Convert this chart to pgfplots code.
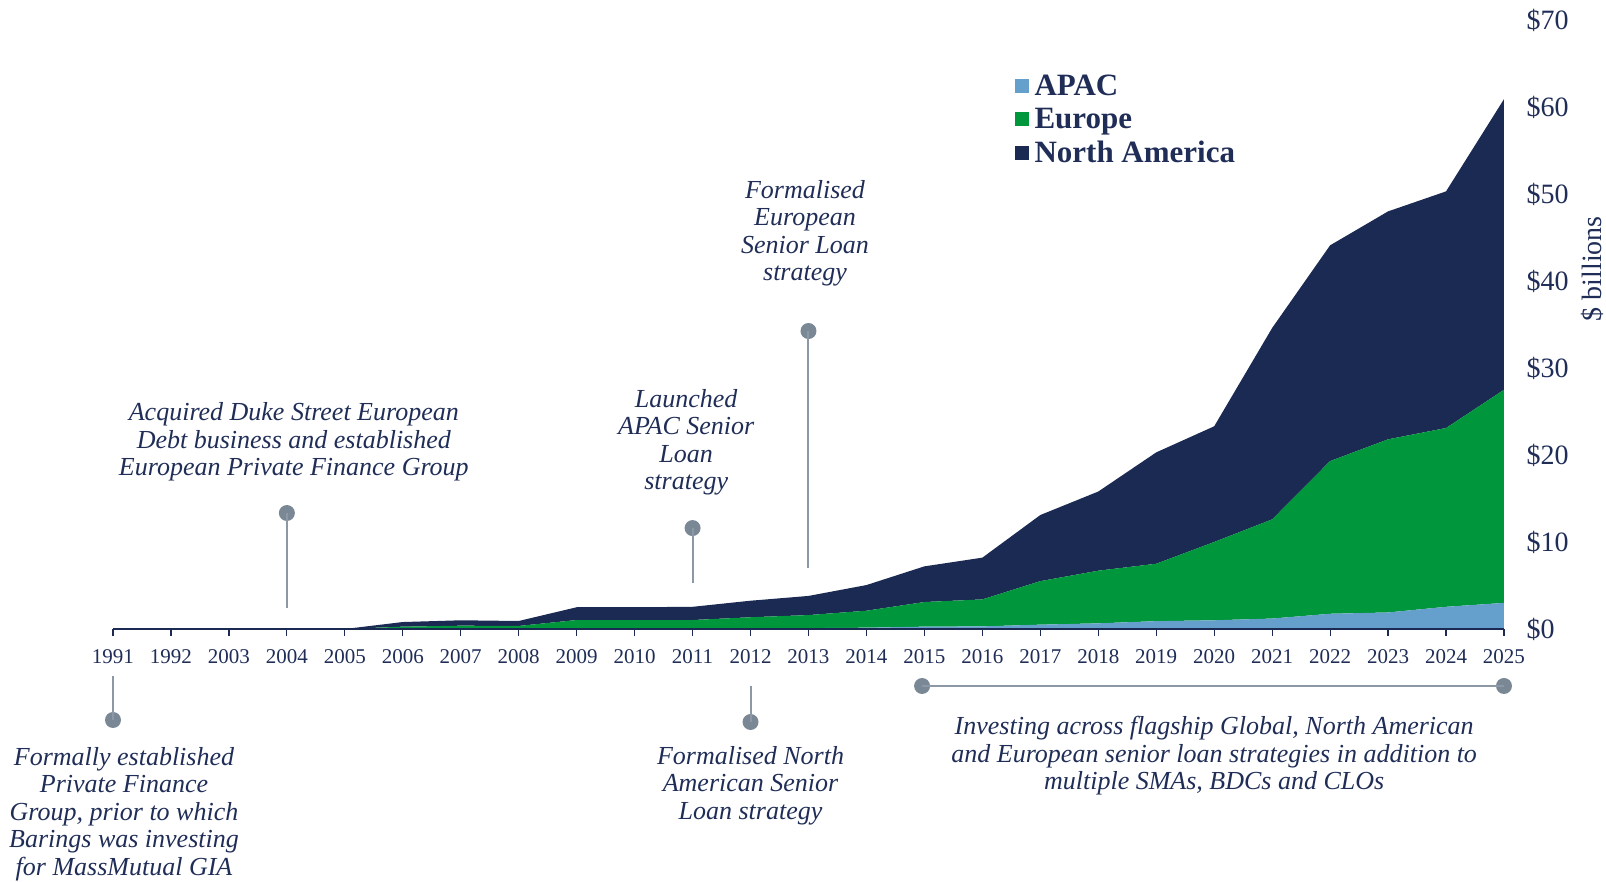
\documentclass[border=0pt]{standalone}
\usepackage{fontspec}
\setmainfont{Liberation Serif}
\usepackage{pgfplots}
\pgfplotsset{compat=1.18}
\usepackage{pgfplotstable}
\definecolor{navy}{HTML}{1B2A52}
\definecolor{eugreen}{HTML}{00963C}
\definecolor{apac}{HTML}{64A0CB}
\definecolor{txt}{HTML}{1F2D57}
\definecolor{pincol}{HTML}{7A8795}
\definecolor{pinline}{HTML}{8C98A5}

\pgfplotstableread{
idx apac europe na
0 0 0 0
1 0 0 0
2 0 0 0
3 0 0 0
4 0 0 0
5 0 0.27 0.53
6 0 0.38 0.62
7 0 0.35 0.57
8 0 1.03 1.47
9 0 1.03 1.47
10 0 1.03 1.52
11 0.08 1.27 1.90
12 0.10 1.50 2.20
13 0.15 1.95 2.95
14 0.27 2.83 4.10
15 0.30 3.10 4.80
16 0.50 5.00 7.60
17 0.65 6.05 9.10
18 0.90 6.60 12.80
19 1.00 9.00 13.30
20 1.20 11.40 22.00
21 1.75 17.55 24.80
22 1.90 19.90 26.20
23 2.55 20.55 27.20
24 3.00 24.50 33.40
}\datatable

\tikzset{ann/.style={align=center, text=txt, font=\itshape\fontsize{26}{27.5}\selectfont}}

\begin{document}
\begin{tikzpicture}
\path[use as bounding box] (0,0) rectangle (1606pt,882pt);
\begin{axis}[
  at={(113pt,253pt)}, anchor=south west,
  scale only axis, width=1391pt, height=609pt,
  xmin=0, xmax=24, ymin=0, ymax=70,
  stack plots=y,
  clip=false,
  axis on top,
  axis x line*=bottom, axis y line*=right,
  x axis line style={-, draw=navy, line width=1.5pt},
  y axis line style={draw=none},
  xtick={0,...,24},
  xticklabels={1991,1992,2003,2004,2005,2006,2007,2008,2009,2010,2011,2012,2013,2014,2015,2016,2017,2018,2019,2020,2021,2022,2023,2024,2025},
  xtick style={draw=navy, line width=1.2pt},
  tick align=outside, major tick length=7pt,
  ytick={0,10,...,70},
  yticklabels={\$0,\$10,\$20,\$30,\$40,\$50,\$60,\$70},
  ytick style={draw=none},
  xticklabel style={font=\fontsize{21}{21}\selectfont, text=txt, yshift=-10pt},
  yticklabel style={font=\fontsize{28}{28}\selectfont, text=txt, anchor=west, xshift=12pt},
  legend style={at={(0.648,0.913)}, anchor=north west, draw=none, fill=none,
    font=\bfseries\fontsize{31}{31}\selectfont, text=txt, row sep=7pt, inner sep=0pt,
    /tikz/every odd column/.append style={column sep=4pt}},
  legend cell align=left,
  legend image code/.code={\fill[#1] (0pt,-7pt) rectangle (14pt,7pt);},
]
\addplot[fill=apac, draw=none] table[x=idx,y=apac]{\datatable} \closedcycle;
\addplot[fill=eugreen, draw=none] table[x=idx,y=europe]{\datatable} \closedcycle;
\addplot[fill=navy, draw=none] table[x=idx,y=na]{\datatable} \closedcycle;
\legend{APAC,Europe,North America}

% pins above
\draw[pinline, line width=2pt] (axis cs:3,2.41) -- (axis cs:3,13.33);
\fill[pincol] (axis cs:3,13.33) circle[radius=8pt];
\node[ann] at (axis cs:3.12,21.5) {Acquired Duke Street European\\Debt business and established\\European Private Finance Group};

\draw[pinline, line width=2pt] (axis cs:10,5.29) -- (axis cs:10,11.6);
\fill[pincol] (axis cs:10,11.6) circle[radius=8pt];
\node[ann] at (axis cs:9.89,21.44) {Launched\\APAC Senior\\Loan\\strategy};

\draw[pinline, line width=2pt] (axis cs:12,7.0) -- (axis cs:12,34.25);
\fill[pincol] (axis cs:12,34.25) circle[radius=8pt];
\node[ann] at (axis cs:11.94,45.46) {Formalised\\European\\Senior Loan\\strategy};

% pins below
\draw[pinline, line width=2pt] (axis cs:0,-5.4) -- (axis cs:0,-10.46);
\fill[pincol] (axis cs:0,-10.46) circle[radius=8pt];
\node[ann] at (axis cs:0.19,-21.24) {Formally established\\Private Finance\\Group, prior to which\\Barings was investing\\for MassMutual GIA};

\draw[pinline, line width=2pt] (axis cs:11,-6.55) -- (axis cs:11,-10.69);
\fill[pincol] (axis cs:11,-10.69) circle[radius=8pt];
\node[ann] at (axis cs:11.0,-17.99) {Formalised North\\American Senior\\Loan strategy};

\draw[pinline, line width=2pt] (axis cs:13.96,-6.55) -- (axis cs:24,-6.55);
\fill[pincol] (axis cs:13.96,-6.55) circle[radius=8pt];
\fill[pincol] (axis cs:24,-6.55) circle[radius=8pt];
\node[ann] at (axis cs:19.0,-14.6) {Investing across flagship Global, North American\\and European senior loan strategies in addition to\\multiple SMAs, BDCs and CLOs};

\node[rotate=90, text=txt, font=\fontsize{28}{28}\selectfont] at (axis cs:25.53,41.4) {\$ billions};
\end{axis}
\end{tikzpicture}
\end{document}
